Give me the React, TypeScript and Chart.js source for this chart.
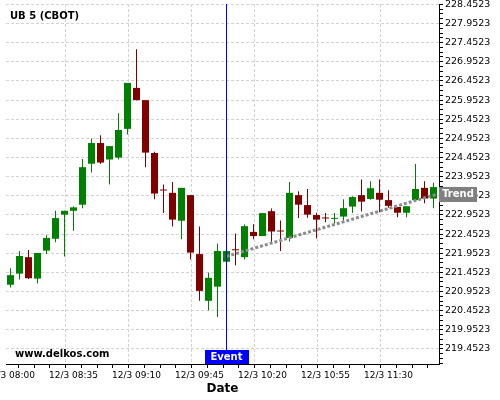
import React, { useEffect, useRef } from 'react';
import { Chart, registerables } from 'chart.js';

Chart.register(...registerables);

const TITLE = 'UB 5 (CBOT)';
const WATERMARK = 'www.delkos.com';
const X_TITLE = 'Date';
const EVENT_LABEL = 'Event';
const TREND_LABEL = 'Trend';

const TIME_TICK_INDEX = [0, 7, 14, 21, 28, 35, 42];
const TIME_LABELS = ['12/3 08:00', '12/3 08:35', '12/3 09:10', '12/3 09:45', '12/3 10:20', '12/3 10:55', '12/3 11:30'];

const OPEN = [221.13, 221.42, 221.85, 221.29, 222.02, 222.33, 222.96, 223.06, 223.22, 224.29, 224.83, 224.40, 224.45, 225.20, 226.27, 225.95, 224.57, 223.60, 223.53, 222.80, 223.47, 221.93, 220.71, 221.08, 221.73, 222.04, 221.85, 222.51, 222.40, 223.05, 222.53, 222.35, 223.47, 223.21, 222.95, 222.87, 222.85, 222.91, 223.17, 223.47, 223.37, 223.53, 223.34, 223.16, 223.01, 223.34, 223.66, 223.38];
const HIGH = [221.56, 222.01, 222.04, 221.96, 222.42, 223.06, 223.06, 223.17, 224.41, 224.94, 225.03, 224.75, 225.61, 226.40, 227.28, 225.95, 224.60, 223.75, 223.81, 223.66, 223.47, 222.65, 221.44, 222.21, 222.01, 222.47, 222.70, 222.71, 223.00, 223.12, 222.81, 223.81, 223.57, 223.63, 223.01, 223.00, 223.00, 223.36, 223.44, 223.88, 223.83, 223.88, 223.60, 223.16, 223.18, 224.28, 223.83, 223.79];
const LOW = [221.06, 221.27, 221.28, 221.16, 221.93, 222.24, 221.87, 222.54, 223.13, 224.06, 224.28, 223.75, 224.40, 225.05, 225.95, 224.20, 223.36, 223.00, 222.65, 222.32, 221.79, 220.71, 220.46, 220.29, 221.73, 221.64, 221.79, 222.32, 222.40, 222.23, 222.01, 222.26, 222.87, 222.88, 222.34, 222.76, 222.73, 222.80, 223.00, 223.04, 223.35, 223.02, 223.14, 222.89, 222.89, 223.34, 223.26, 223.13];
const CLOSE = [221.38, 221.88, 221.30, 221.96, 222.35, 222.87, 223.06, 223.15, 224.20, 224.83, 224.32, 224.75, 225.17, 226.40, 225.95, 224.58, 223.51, 223.59, 222.83, 223.66, 221.97, 220.97, 221.31, 222.01, 222.01, 222.03, 222.66, 222.40, 223.00, 222.52, 222.52, 223.53, 223.22, 222.96, 222.83, 222.86, 222.86, 223.13, 223.42, 223.30, 223.65, 223.35, 223.19, 223.01, 223.18, 223.63, 223.38, 223.68];

const Y_TICKS = [228.4523, 227.9523, 227.4523, 226.9523, 226.4523, 225.9523, 225.4523, 224.9523, 224.4523, 223.9523, 223.4523, 222.9523, 222.4523, 221.9523, 221.4523, 220.9523, 220.4523, 219.9523, 219.4523];

const TREND_X = [24, 47.33];
const TREND_Y = [221.87, 223.49];
const EVENT_INDEX = 24;

const FONT = "'DejaVu Sans', Verdana, sans-serif";
const GREEN = '#008000';
const RED = '#800000';
const GRID = '#d2d2d2';

const X_MIN = -0.5;
const X_MAX = 47.6111;
const Y_MIN = 219.0606;
const Y_MAX = 228.4601;

const near = (a: number, b: number) => Math.abs(a - b) < 1e-6;

export default function App() {
  const ref = useRef<HTMLCanvasElement | null>(null);

  useEffect(() => {
    const canvas = ref.current;
    if (!canvas) return;

    const colors = OPEN.map((o, i) => (CLOSE[i] >= o ? GREEN : RED));

    const xTicks: number[] = [];
    for (let k = 0; k * 1.75 <= X_MAX; k++) xTicks.push(k * 1.75);

    const yTicks: number[] = [];
    for (let i = 0; i < Y_TICKS.length; i++) {
      yTicks.push(Y_TICKS[i]);
      const step = 0.125;
      for (let m = 1; m <= 3; m++) {
        const v = Y_TICKS[i] - m * step;
        if (v >= Y_MIN) yTicks.push(v);
      }
    }

    const isMajorX = (v: number) => TIME_TICK_INDEX.some((t) => near(t, v));
    const isMajorY = (v: number) => Y_TICKS.some((t) => near(t, v));

    const overlay = {
      id: 'overlay',
      afterDatasetsDraw(chart: any) {
        const { ctx, chartArea, scales } = chart;
        const ex = Math.round(scales.x.getPixelForValue(EVENT_INDEX) - 0.5) + 0.5;
        ctx.save();
        ctx.strokeStyle = '#0000ff';
        ctx.lineWidth = 1;
        ctx.beginPath();
        ctx.moveTo(ex, chartArea.top);
        ctx.lineTo(ex, chartArea.bottom);
        ctx.stroke();
        ctx.restore();
      },
      afterDraw(chart: any) {
        const { ctx, chartArea, scales } = chart;
        ctx.save();
        ctx.fillStyle = '#000';
        ctx.font = `bold 10px ${FONT}`;
        ctx.textBaseline = 'middle';
        ctx.textAlign = 'left';
        ctx.fillText(TITLE, chartArea.left + 4, 16);
        ctx.fillText(WATERMARK, chartArea.left + 9, chartArea.bottom - 10);
        const ex = scales.x.getPixelForValue(EVENT_INDEX);
        ctx.fillStyle = '#0000ff';
        ctx.fillRect(Math.round(ex - 22), chartArea.bottom - 14, 44, 14);
        ctx.fillStyle = '#fff';
        ctx.textAlign = 'center';
        ctx.fillText(EVENT_LABEL, ex, chartArea.bottom - 6.5);
        const ty = scales.y.getPixelForValue(TREND_Y[TREND_Y.length - 1]);
        ctx.fillStyle = '#808080';
        ctx.fillRect(chartArea.right, Math.round(ty - 7.5), 38, 15);
        ctx.fillStyle = '#fff';
        ctx.fillText(TREND_LABEL, chartArea.right + 19, ty + 0.5);
        ctx.restore();
      },
    };

    const chart = new Chart(canvas, {
      type: 'bar',
      data: {
        datasets: [
          {
            type: 'line',
            data: TREND_X.map((x, i) => ({ x, y: TREND_Y[i] })),
            borderColor: '#8c8c8c',
            borderWidth: 3,
            borderDash: [3, 2],
            pointRadius: 0,
            fill: false,
            order: 0,
          } as any,
          {
            type: 'bar',
            data: OPEN.map((o, i) => ({ x: i, y: [o, CLOSE[i]] })),
            backgroundColor: colors,
            barThickness: 7,
            minBarLength: 1,
            grouped: false,
            inflateAmount: 0,
            borderWidth: 0,
            order: 1,
          } as any,
          {
            type: 'bar',
            data: LOW.map((l, i) => ({ x: i, y: [l, HIGH[i]] })),
            backgroundColor: colors,
            barThickness: 1,
            minBarLength: 1,
            grouped: false,
            inflateAmount: 0,
            borderWidth: 0,
            order: 2,
          } as any,
        ],
      },
      options: {
        animation: false,
        responsive: false,
        maintainAspectRatio: false,
        layout: { padding: { left: 46, top: 4, right: 0, bottom: 0 } },
        plugins: { legend: { display: false }, tooltip: { enabled: false } },
        scales: {
          x: {
            type: 'linear',
            min: X_MIN,
            max: X_MAX,
            offset: false,
            bounds: 'data',
            afterBuildTicks: (s: any) => {
              s.ticks = xTicks.map((v) => ({ value: v }));
            },
            afterFit: (s: any) => {
              s.height = 36;
              s.paddingLeft = 0;
              s.paddingRight = 0;
            },
            grid: {
              color: (c: any) => (c.tick && isMajorX(c.tick.value) ? GRID : 'rgba(0,0,0,0)'),
              tickColor: '#000',
              tickLength: 4,
              lineWidth: 1,
              drawTicks: true,
            },
            border: { display: true, color: '#000', width: 1, dash: [3, 2] },
            ticks: {
              autoSkip: false,
              maxRotation: 0,
              minRotation: 0,
              padding: 2,
              color: '#000',
              font: { family: FONT, size: 9 },
              callback: (v: any) => {
                const idx = TIME_TICK_INDEX.findIndex((t) => near(t, Number(v)));
                return idx >= 0 ? TIME_LABELS[idx] : '';
              },
            },
            title: {
              display: true,
              text: X_TITLE,
              color: '#000',
              font: { family: FONT, size: 12, weight: 'bold' },
              padding: { top: 0, bottom: 4 },
            },
          } as any,
          y: {
            type: 'linear',
            position: 'right',
            min: Y_MIN,
            max: Y_MAX,
            bounds: 'data',
            afterBuildTicks: (s: any) => {
              s.ticks = yTicks.map((v) => ({ value: v }));
            },
            afterFit: (s: any) => {
              s.width = 61;
              s.paddingTop = 0;
              s.paddingBottom = 0;
            },
            grid: {
              color: (c: any) => (c.tick && isMajorY(c.tick.value) ? GRID : 'rgba(0,0,0,0)'),
              tickColor: '#000',
              tickLength: 4,
              lineWidth: 1,
              drawTicks: true,
            },
            border: { display: true, color: '#000', width: 1, dash: [3, 2] },
            ticks: {
              autoSkip: false,
              padding: 2,
              color: '#000',
              font: { family: FONT, size: 9.5 },
              callback: (v: any) => {
                const t = Y_TICKS.find((y) => near(y, Number(v)));
                return t !== undefined ? t.toFixed(4) : '';
              },
            },
          } as any,
        },
      },
      plugins: [overlay as any],
    } as any);

    return () => chart.destroy();
  }, []);

  return (
    <div
      style={{
        position: 'fixed',
        left: 0,
        top: 0,
        width: 500,
        height: 400,
        overflow: 'hidden',
        background: '#fff',
      }}
    >
      <canvas
        ref={ref}
        width={540}
        height={400}
        style={{ position: 'absolute', left: -40, top: 0, width: 540, height: 400 }}
      />
    </div>
  );
}
